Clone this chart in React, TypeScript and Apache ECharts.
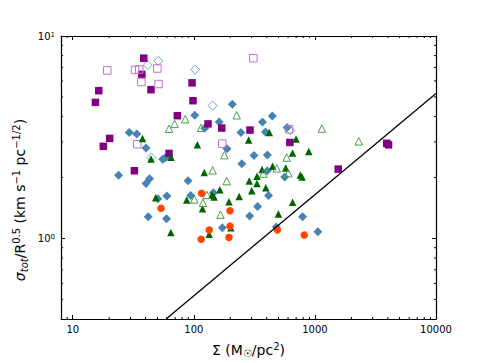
import React, { useEffect, useRef } from 'react';
import * as echarts from 'echarts';

// Axis ranges and ticks
const X_MIN = 8;
const X_MAX = 10000;
const Y_MIN = 0.4;
const Y_MAX = 10;
const xMinorTicks = [9, 20, 30, 40, 50, 60, 70, 80, 90, 200, 300, 400, 500, 600, 700, 800, 900, 2000, 3000, 4000, 5000, 6000, 7000, 8000, 9000];
const yMinorTicks = [0.5, 0.6, 0.7, 0.8, 0.9, 2, 3, 4, 5, 6, 7, 8, 9];

// Data series (Σ in Msun/pc^2, σ_tot/R^0.5)
const purpleSquares: number[][] = [
  [38.6, 7.77], [37.2, 6.46], [44.3, 5.43], [16.4, 5.37], [15.4, 4.70], [96.7, 5.87], [98.5, 4.79],
  [73.1, 4.04], [131, 3.68], [170, 3.51], [291, 3.43], [20.2, 3.12], [17.9, 2.85], [62.4, 2.63],
  [32.3, 2.16], [621, 2.98], [3920, 2.95], [4057, 2.90], [1559, 2.20],
];
const openSquares: number[][] = [
  [19.3, 6.76], [32.7, 6.80], [35.4, 6.83], [50.0, 6.91], [36.9, 5.93], [51.1, 5.79], [310, 7.77],
  [34.2, 2.92], [172, 2.94], [611, 3.46],
];
const blueDiamonds: number[][] = [
  [208, 4.60], [101.8, 4.06], [162, 3.76], [123, 3.50], [245, 3.34], [29.3, 3.34], [33.8, 3.28],
  [40.3, 2.80], [188, 2.77], [314, 2.57], [249, 2.34], [55.4, 2.46], [57.8, 2.50], [369, 3.76],
  [391, 3.36], [405, 2.58], [405, 2.16], [563, 2.01], [445, 4.02], [589, 3.53], [23.9, 2.05],
  [43.1, 1.97], [40.3, 1.87], [89.6, 1.93], [59.9, 1.62], [50.4, 1.57], [94.3, 1.63], [145, 1.68],
  [42.0, 1.28], [59.5, 1.25], [172, 1.13], [414, 1.63], [336, 1.44], [289, 1.29], [480, 1.14],
  [791, 1.28], [1057, 1.08],
];
const openDiamonds: number[][] = [
  [41.7, 7.18], [50.9, 7.54], [102.7, 6.82], [143, 4.53], [44.6, 2.51], [627, 3.42],
];
const greenTriangles: number[][] = [
  [37.7, 3.12], [44.3, 2.47], [64.9, 2.52], [107, 2.90], [284, 3.06], [420, 3.34], [699, 3.10],
  [654, 2.64], [889, 2.69], [122, 2.12], [48.5, 1.59], [87.4, 1.55], [366, 2.19], [447, 2.27],
  [574, 2.23], [758, 2.06], [783, 2.01], [287, 1.92], [333, 2.03], [332, 1.87], [393, 1.78],
  [301, 1.72], [237, 1.61], [195, 1.52], [164, 1.74], [147, 1.60], [141, 1.64], [118, 1.40],
  [64.6, 1.07], [134, 1.05], [202, 1.13], [654, 1.51], [499, 1.32],
];
const openTriangles: number[][] = [
  [62.4, 3.48], [69.3, 3.68], [84.9, 3.88], [115, 3.52], [226, 4.06], [179, 2.58], [1141, 3.49],
  [2302, 3.02], [585, 2.51], [143, 2.17], [187, 1.92], [484, 2.22], [375, 2.09], [603, 2.10],
  [101, 1.56], [128, 1.64], [119, 1.50], [166, 1.31],
];
const orangeCircles: number[][] = [
  [53.6, 1.41], [116, 1.67], [199, 1.37], [134, 1.10], [199, 1.15], [115, 0.99], [195, 1.01],
  [490, 1.10], [817, 1.04],
];
const limitLine: number[][] = [[59, 0.4], [10000, 5.2]];

const FONT = 'DejaVu Sans';

const isPow10 = (v: number) => Math.abs(Math.log10(v) - Math.round(Math.log10(v))) < 1e-6;

export default function App() {
  const ref = useRef<HTMLDivElement>(null);
  useEffect(() => {
    const chart = echarts.init(ref.current!, null, { renderer: 'svg' });
    const axisLine = { show: true, onZero: false, lineStyle: { color: '#000', width: 1.2 } };
    const axisTick = { show: true, inside: true, length: 4, lineStyle: { color: '#000', width: 1 } };
    const minorTickSeries = (vals: number[], horizontal: boolean) => ({
      type: 'custom',
      silent: true,
      z: 1,
      data: vals.map((v) => (horizontal ? [v, Y_MIN] : [X_MIN, v])),
      renderItem: (_p: any, api: any) => {
        const v = horizontal ? api.value(0) : api.value(1);
        if (horizontal) {
          const b = api.coord([v, Y_MIN]);
          const t = api.coord([v, Y_MAX]);
          return {
            type: 'group',
            children: [
              { type: 'line', shape: { x1: b[0], y1: b[1], x2: b[0], y2: b[1] - 2 }, style: { stroke: '#000', lineWidth: 1 } },
              { type: 'line', shape: { x1: t[0], y1: t[1], x2: t[0], y2: t[1] + 2 }, style: { stroke: '#000', lineWidth: 1 } },
            ],
          };
        }
        const l = api.coord([X_MIN, v]);
        const r = api.coord([X_MAX, v]);
        return {
          type: 'group',
          children: [
            { type: 'line', shape: { x1: l[0], y1: l[1], x2: l[0] + 2, y2: l[1] }, style: { stroke: '#000', lineWidth: 1 } },
            { type: 'line', shape: { x1: r[0], y1: r[1], x2: r[0] - 2, y2: r[1] }, style: { stroke: '#000', lineWidth: 1 } },
          ],
        };
      },
    });
    const scatter = (data: number[][], symbol: string, size: number, itemStyle: any, z: number) => ({
      type: 'scatter',
      data,
      symbol,
      symbolSize: size,
      itemStyle: { opacity: 1, ...itemStyle },
      z,
      silent: true,
    });
    const open = (c: string) => ({ color: 'rgba(255,255,255,0)', borderColor: c, borderWidth: 1 });

    chart.setOption({
      animation: false,
      backgroundColor: '#fff',
      grid: { left: 61, right: 49, top: 36, bottom: 37 },
      graphic: [
        {
          type: 'text',
          x: 20,
          y: 200,
          rotation: Math.PI / 2,
          silent: true,
          style: {
            text: '{i|σ}{sub|tot}/R{sup|0.5} (km s{sup|−1} pc{sup|−1/2})',
            align: 'center',
            verticalAlign: 'middle',
            fill: '#000',
            font: '14px "DejaVu Sans"',
            rich: {
              i: { fontFamily: FONT, fontStyle: 'italic', fontSize: 14, lineHeight: 18 },
              sub: { fontFamily: FONT, fontStyle: 'italic', fontSize: 10, verticalAlign: 'bottom', lineHeight: 10 },
              sup: { fontFamily: FONT, fontSize: 10, verticalAlign: 'top', lineHeight: 10 },
            },
          },
        },
      ],
      xAxis: [
        {
          type: 'log',
          logBase: 10,
          min: X_MIN,
          max: X_MAX,
          position: 'bottom',
          axisLine,
          axisTick,
          splitLine: { show: false },
          axisLabel: {
            color: '#000',
            fontFamily: FONT,
            fontSize: 10,
            margin: 5,
            formatter: (v: number) => (isPow10(v) ? String(Math.round(v)) : ''),
          },
          name: 'Σ (M{sub|☉}/pc{sup|2})',
          nameLocation: 'middle',
          nameGap: 22,
          nameTextStyle: {
            color: '#000',
            fontFamily: FONT,
            fontSize: 14,
            lineHeight: 17,
            rich: {
              sub: { fontFamily: FONT, fontSize: 10, color: '#000', verticalAlign: 'bottom', lineHeight: 10 },
              sup: { fontFamily: FONT, fontSize: 10, color: '#000', verticalAlign: 'top', lineHeight: 10 },
            },
          },
        },
        {
          type: 'log',
          logBase: 10,
          min: X_MIN,
          max: X_MAX,
          position: 'top',
          axisLine,
          axisTick,
          splitLine: { show: false },
          axisLabel: { show: false },
        },
      ],
      yAxis: [
        {
          type: 'log',
          logBase: 10,
          min: Y_MIN,
          max: Y_MAX,
          position: 'left',
          axisLine,
          axisTick,
          splitLine: { show: false },
          axisLabel: {
            color: '#000',
            fontFamily: FONT,
            fontSize: 10,
            margin: 6,
            formatter: (v: number) => (isPow10(v) ? '10{sup|' + Math.round(Math.log10(v)) + '}' : ''),
            rich: {
              sup: { fontFamily: FONT, fontSize: 7, color: '#000', verticalAlign: 'top', lineHeight: 7 },
            },
          },
        },
        {
          type: 'log',
          logBase: 10,
          min: Y_MIN,
          max: Y_MAX,
          position: 'right',
          axisLine,
          axisTick,
          splitLine: { show: false },
          axisLabel: { show: false },
        },
      ],
      series: [
        minorTickSeries(xMinorTicks, true),
        minorTickSeries(yMinorTicks, false),
        scatter(blueDiamonds, 'diamond', 9, { color: '#4682b4' }, 2),
        scatter(openDiamonds, 'diamond', 9, open('#6f9fd2'), 3),
        scatter(purpleSquares, 'rect', 7.5, { color: '#800080' }, 4),
        scatter(openSquares, 'rect', 7.5, open('#c070c8'), 5),
        scatter(greenTriangles, 'triangle', 7.5, { color: '#006400' }, 6),
        scatter(openTriangles, 'triangle', 7.5, open('#4c9c4c'), 7),
        scatter(orangeCircles, 'circle', 7.5, { color: '#ff4500' }, 8),
        {
          type: 'line',
          data: limitLine,
          symbol: 'none',
          lineStyle: { color: '#000', width: 1.3 },
          z: 9,
          silent: true,
        },
      ],
    });
    return () => chart.dispose();
  }, []);
  return <div ref={ref} style={{ position: 'absolute', left: 0, top: 0, width: 485, height: 363 }} />;
}
